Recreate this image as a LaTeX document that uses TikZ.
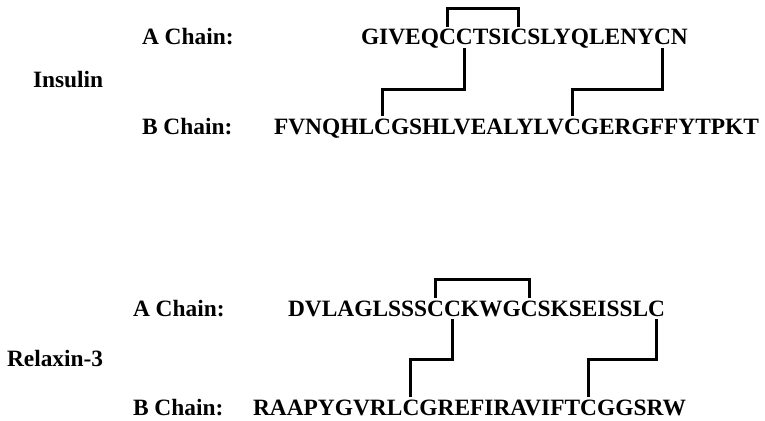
\documentclass[tikz,border=0pt]{standalone}
\usepackage{fontspec}
\setmainfont{Liberation Serif}
\usetikzlibrary{positioning}
\tikzset{txt/.style={inner sep=0pt,outer sep=0pt,anchor=base west,font=\bfseries\fontsize{23.4}{27}\selectfont}}
\tikzset{res/.style={txt,base right=0pt of #1}}
\tikzset{bond/.style={line width=3pt}}

\begin{document}
\begin{tikzpicture}[x=1pt,y=1pt]
	\useasboundingbox (0,0) rectangle (765,-420);
	% insulin
	\node[txt] (ins) at (33,-87) {Insulin};
	\node[txt] (insA) at (142,-45) {A Chain:};
	\node[txt] (insB) at (142,-134) {B Chain:};
	\node[txt] (iA1) at (361,-45) {GIVEQ};
	\node[res=iA1] (iAc6) {C};
	\node[res=iAc6] (iAc7) {C};
	\node[res=iAc7] (iA2) {TSI};
	\node[res=iA2] (iAc11) {C};
	\node[res=iAc11] (iA3) {SLYQLENY};
	\node[res=iA3] (iAc20) {C};
	\node[res=iAc20] (iA4) {N};
	\node[txt] (iB1) at (274,-134) {FVNQHL};
	\node[res=iB1] (iBc7) {C};
	\node[res=iBc7] (iB2) {GSHLVEALYLV};
	\node[res=iB2] (iBc19) {C};
	\node[res=iBc19] (iB3) {GERGFFYTPKT};
	\draw[bond] ([yshift=3pt]iAc6.north) -- ++(0,18) -| ([yshift=3pt]iAc11.north);
	\draw[bond] ([yshift=-3pt]iAc7.south) -- ++(0,-41) -| ([yshift=3pt]iBc7.north);
	\draw[bond] ([yshift=-3pt]iAc20.south) -- ++(0,-41) -| ([yshift=3pt]iBc19.north);
	% relaxin-3
	\node[txt] (rlx) at (7,-366) {Relaxin-3};
	\node[txt] (rlxA) at (133,-316) {A Chain:};
	\node[txt] (rlxB) at (133,-415) {B Chain:};
	\node[txt] (rA1) at (288,-316) {DVLAGLSSS};
	\node[res=rA1] (rAc10) {C};
	\node[res=rAc10] (rAc11) {C};
	\node[res=rAc11] (rA2) {KWG};
	\node[res=rA2] (rAc15) {C};
	\node[res=rAc15] (rA3) {SKSEISSL};
	\node[res=rA3] (rAc24) {C};
	\node[txt] (rB1) at (253,-415) {RAAPYGVRL};
	\node[res=rB1] (rBc10) {C};
	\node[res=rBc10] (rB2) {GREFIRAVIFT};
	\node[res=rB2] (rBc22) {C};
	\node[res=rBc22] (rB3) {GGSRW};
	\draw[bond] ([yshift=3pt]rAc10.north) -- ++(0,18) -| ([yshift=3pt]rAc15.north);
	\draw[bond] ([yshift=-3pt]rAc11.south) -- ++(0,-40) -| ([yshift=3pt]rBc10.north);
	\draw[bond] ([yshift=-3pt]rAc24.south) -- ++(0,-40) -| ([yshift=3pt]rBc22.north);
\end{tikzpicture}
\end{document}
